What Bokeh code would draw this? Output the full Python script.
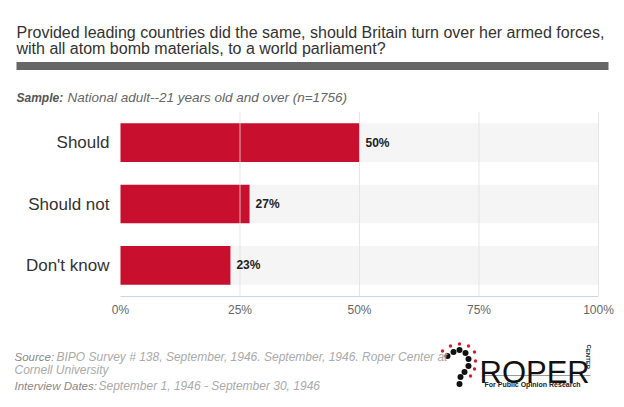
from bokeh.plotting import figure
from bokeh.models import (ColumnDataSource, Range1d, FactorRange, LabelSet, Label,
                          FixedTicker, LinearAxis, CategoricalAxis)
from bokeh.core.properties import value
from bokeh.embed import file_html
from bokeh.resources import INLINE

categories = ["Should", "Should not", "Don't know"]
values = [50, 27, 23]
value_labels = ["50%", "27%", "23%"]
tick_values = [0, 25, 50, 75, 100]
tick_labels = ["0%", "25%", "50%", "75%", "100%"]

title_lines = ["Provided leading countries did the same, should Britain turn over her armed forces,",
               "with all atom bomb materials, to a world parliament?"]
sample_head = "Sample:"
sample_text = "National adult--21 years old and over (n=1756)"
source_head = "Source:"
source_text = "BIPO Survey # 138, September, 1946. September, 1946. Roper Center at"
source_text2 = "Cornell University"
dates_head = "Interview Dates:"
dates_text = "September 1, 1946 - September 30, 1946"

W, H = 624, 407
FL, FR, FT, FB = 120, 598, 112, 296   # plot-area edges in page pixels
FONT = "Liberation Sans"

# the frame covers the whole canvas; ranges are set so the plot area lands on FL..FR, FT..FB
pxu = (FR - FL) / 100.0
cat_px = (FB - FT) / len(categories)
pad = (H / cat_px - len(categories)) / 2.0


def dx(xp):   # page x -> data x
    return (xp - FL) / pxu


def dy(yp):   # page y -> synthetic categorical y
    return (FB - yp) / cat_px


p = figure(width=W, height=H, output_backend="svg", toolbar_location=None, title=None,
           x_range=Range1d(-FL / pxu, (W - FL) / pxu),
           y_range=FactorRange(*reversed(categories), range_padding=pad,
                               range_padding_units="absolute"),
           x_axis_type=None, y_axis_type=None, min_border=0)
p.outline_line_color = None
p.background_fill_color = "white"
p.border_fill_color = "white"

src = ColumnDataSource(dict(cat=categories, val=values, lab=value_labels,
                            full=[100] * len(categories)))
p.hbar(y="cat", left=0, right="full", height=0.63, source=src,
       fill_color="#f5f5f5", line_color=None)
p.hbar(y="cat", left=0, right="val", height=0.63, source=src,
       fill_color="#c8102e", line_color=None)

# vertical grid lines over the bars
p.segment(x0=tick_values[1:], x1=tick_values[1:],
          y0=[0] * (len(tick_values) - 1), y1=[len(categories)] * (len(tick_values) - 1),
          line_color="#e0e0e0", line_alpha=0.8, line_width=1)

p.add_layout(LabelSet(x="val", y="cat", text="lab", source=src, x_offset=6,
                      text_baseline="middle", text_font=value(FONT), text_font_size="12px",
                      text_font_style="bold", text_color="#222222"))

xa = LinearAxis(fixed_location=0, bounds=(0, 100), ticker=FixedTicker(ticks=tick_values))
xa.major_label_overrides = {v: l for v, l in zip(tick_values, tick_labels)}
xa.axis_line_color = "#ccd6eb"
xa.major_tick_line_color = None
xa.minor_tick_line_color = None
xa.major_tick_out = 0
xa.major_tick_in = 0
xa.major_label_text_font = FONT
xa.major_label_text_font_size = "12px"
xa.major_label_text_color = "#666666"
xa.major_label_standoff = 7
p.add_layout(xa, "below")

ya = CategoricalAxis(fixed_location=0)
ya.axis_line_color = None
ya.major_tick_line_color = None
ya.minor_tick_line_color = None
ya.major_tick_out = 0
ya.major_tick_in = 0
ya.major_label_text_font = FONT
ya.major_label_text_font_size = "17px"
ya.major_label_text_color = "#333333"
ya.major_label_standoff = 11
p.add_layout(ya, "left")


def lab(text, xp, yp, size, color, style="normal", font=FONT, align="left", angle=0.0):
    p.add_layout(Label(x=xp, y=H - yp, x_units="screen", y_units="screen",
                       text=text, text_font=font, text_font_size=size,
                       text_color=color, text_font_style=style, text_align=align,
                       text_baseline="alphabetic", angle=angle))


# header
lab(title_lines[0], 16, 32, "16px", "#333333")
lab(title_lines[1], 16, 48, "16px", "#333333")
p.quad(left=dx(16), right=dx(608), top=dy(62), bottom=dy(70),
       fill_color="#666666", line_color=None)
lab(sample_head, 16, 97, "12px", "#555555", "bold italic")
lab(sample_text, 67, 97, "13.5px", "#666666", "italic")

# footer
lab(source_head, 14, 356, "11.5px", "#888888", "italic")
lab(source_text, 56, 356, "12px", "#aaaaaa", "italic")
lab(source_text2, 14, 369, "12px", "#aaaaaa", "italic")
lab(dates_head, 14, 385, "11.5px", "#888888", "italic")
lab(dates_text, 98, 385, "12px", "#aaaaaa", "italic")

# logo
lab("ROPER", 479, 372, "31px", "#111111")
lab("For Public Opinion Research", 484, 384, "7px", "#222222", "bold")
lab("CENTER", 588, 344, "6px", "#222222", "bold", angle=-1.5708)
p.quad(left=dx(482), right=dx(590), top=dy(375), bottom=dy(376),
       fill_color="#999999", line_color=None)
blk_x = [447, 453, 459, 465, 468, 468, 464, 460, 459]
blk_y = [356, 352, 350, 353, 359, 366, 372, 377, 384]
red_x = [442, 450, 459, 468, 474, 475, 474, 470]
red_y = [351, 346, 344, 346, 352, 361, 369, 376]
p.scatter([dx(v) for v in blk_x], [dy(v) for v in blk_y], size=6,
          fill_color="#111111", line_color=None)
p.scatter([dx(v) for v in red_x], [dy(v) for v in red_y], size=3.5,
          fill_color="#d0202f", line_color=None)

open("out.html", "w").write(file_html(p, INLINE))
